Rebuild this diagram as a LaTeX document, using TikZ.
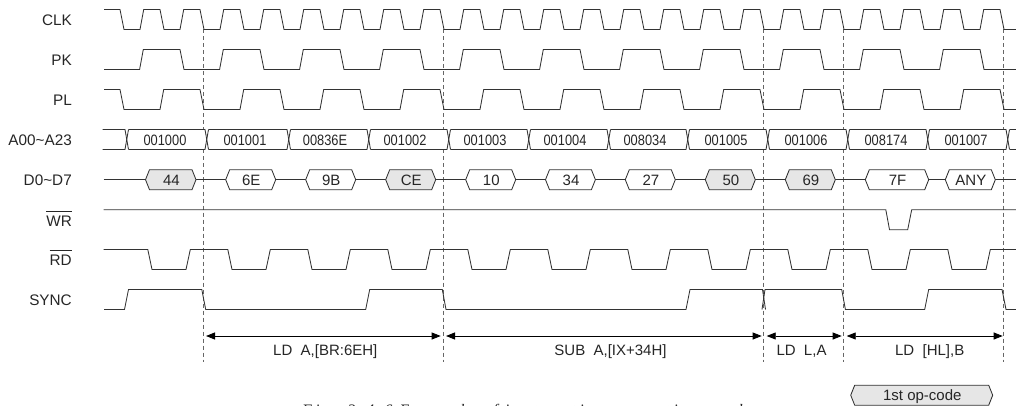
\documentclass[tikz,border=0pt]{standalone}
\usepackage{fontspec}
\setmainfont{Liberation Sans}
\newfontfamily\narrowfont[FakeStretch=0.855]{Liberation Sans}
\newfontfamily\capfont[Ligatures=TeX,LetterSpace=20]{Liberation Serif}
\usetikzlibrary{arrows.meta}
\definecolor{ink}{HTML}{333333}
\definecolor{dashc}{HTML}{666666}
\definecolor{shade}{HTML}{E6E6E6}
\tikzset{
  wave/.style={draw=ink,line width=0.85pt,line join=miter},
  guide/.style={draw=dashc,line width=0.9pt,dash pattern=on 4pt off 3pt},
  sig/.style={anchor=base east,inner sep=0pt,font=\fontsize{15.3}{18}\selectfont,text=black!85},
  addr/.style={anchor=base,inner sep=0pt,font=\narrowfont\fontsize{15}{18}\selectfont,text=black!85},
  dat/.style={anchor=base,inner sep=0pt,font=\fontsize{15}{18}\selectfont,text=black!85},
  span/.style={draw=black,line width=0.85pt,{Triangle[length=9pt,width=7pt]}-{Triangle[length=9pt,width=7pt]}},
}
% name, left tip, right tip, fill, text, centre y
\newcommand\hexa[6]{%
  \filldraw[wave,fill=#4] (#2,#6) -- (#2+4,#6-10) -- (#3-4,#6-10) -- (#3,#6) -- (#3-4,#6+10) -- (#2+4,#6+10) -- cycle;
  \node[dat] (#1) at ({(#2+#3)/2+0.6},#6+5.5) {#5};
}
\newcommand\ovl[1]{\vbox{\hrule height 0.8pt\kern 4pt\hbox{#1}}}
\begin{document}
\begin{tikzpicture}[x=1pt,y=-1pt]
\useasboundingbox (0,0) rectangle (1016,406);
\clip (0,0) rectangle (1016,406);
\fill[white] (0,0) rectangle (1016,406);

% guides
\foreach \x in {203,443,763,843,1003}{
  \draw[guide] (\x,29.5) -- (\x,129.5);
  \draw[guide] (\x,149.5) -- (\x,362);
}

% labels
\node[sig] (lclk) at (72,25.5) {CLK};
\node[sig] (lpk) at (72,66) {PK};
\node[sig] (lpl) at (72,106) {PL};
\node[sig] (la) at (72,146) {A00\textasciitilde A23};
\node[sig] (ld) at (72,185.5) {D0\textasciitilde D7};
\node[sig] (lwr) at (72,226) {\ovl{WR}};
\node[sig] (lrd) at (72,265.5) {\ovl{RD}};
\node[sig] (lsync) at (72,305.5) {SYNC};

% CLK
\draw[wave] (104,9.5) foreach \k in {0,...,21}{
  -- ({120+40*\k},9.5) -- ({124+40*\k},29.5) -- ({140+40*\k},29.5) -- ({143.7+40*\k},9.5)
} -- (1000,9.5) -- (1004,29.5) -- (1016,29.5);

% PK
\draw[wave] (104,69.5) foreach \k in {0,...,10}{
  -- ({139.6+80*\k},69.5) -- ({143.3+80*\k},49.5) -- ({180+80*\k},49.5) -- ({184+80*\k},69.5)
} -- (1016,69.5);

% PL
\draw[wave] (104,89.5) foreach \k in {0,...,10}{
  -- ({120+80*\k},89.5) -- ({124+80*\k},109.5) -- ({160+80*\k},109.5) -- ({163.7+80*\k},89.5)
} -- (1000,89.5) -- (1004,109.5) -- (1016,109.5);

% A00~A23
\draw[wave] (102.5,129.5) -- (125,129.5) -- (128.5,149.5);
\draw[wave] (102.5,149.5) -- (125,149.5) -- (128.5,129.5);
\foreach \c/\n/\m/\t in {125/205/165/001000,205/287/245/001001,287/367/325/00836E,367/447/405/001002,447/527/485/001003,527/607/565/001004,607/686/645/008034,686/766/726/001005,766/846/806/001006,846/926/886/008174,926/1006/966/001007}{
  \draw[wave] (\c+3.5,129.5) -- (\n,129.5) -- (\n+3.5,149.5);
  \draw[wave] (\c+3.5,149.5) -- (\n,149.5) -- (\n+3.5,129.5);
  \node[addr] (a\t) at (\m,146) {\t};
}
\draw[wave] (1009.5,129.5) -- (1016,129.5);
\draw[wave] (1009.5,149.5) -- (1016,149.5);

% D0~D7
\draw[wave] (103.7,179.7) -- (1016,179.7);
\hexa{d1}{145.5}{196}{shade}{44}{179.7}
\hexa{d2}{225.7}{275.7}{white}{6E}{179.7}
\hexa{d3}{305.7}{355.7}{white}{9B}{179.7}
\hexa{d4}{385.7}{435.7}{shade}{CE}{179.7}
\hexa{d5}{465.7}{515.7}{white}{10}{179.7}
\hexa{d6}{545.5}{595.4}{white}{34}{179.7}
\hexa{d7}{625.3}{675.3}{white}{27}{179.7}
\hexa{d8}{705.3}{755.3}{shade}{50}{179.7}
\hexa{d9}{785.3}{835.3}{shade}{69}{179.7}
\hexa{d10}{865.3}{928.7}{white}{7F}{179.7}
\hexa{d11}{945.3}{995.3}{white}{ANY}{179.7}

% WR
\draw[wave] (103.7,209.7) -- (885.8,209.7) -- (889.5,229.7) -- (907.7,229.7) -- (911.7,209.7) -- (1016,209.7);

% RD
\draw[wave] (103.7,249.5) foreach \k in {0,...,9}{
  -- ({147.8+80*\k},249.5) -- ({152+80*\k},269.5) -- ({186+80*\k},269.5) -- ({190.3+80*\k},249.5)
} -- (947.8,249.5) -- (952,269.5) -- (986,269.5) -- (990.3,249.5) -- (1016,249.5);

% SYNC
\draw[wave] (104,309.5) -- (124.5,309.5) -- (128.5,289.5) -- (201.8,289.5) -- (205.7,309.5) -- (365.7,309.5) -- (369.7,289.5) -- (442.3,289.5) -- (446,309.5) -- (686,309.5) -- (690,289.5) -- (762.5,289.5) -- (765.5,309.5);
\draw[wave] (762,309.5) -- (765,289.5) -- (841.7,289.5) -- (845.4,309.5) -- (924.7,309.5) -- (928.7,289.5) -- (1002,289.5) -- (1006,309.5) -- (1016,309.5);

% spans
\coordinate (s1a) at (206,336); \coordinate (s1b) at (440.7,336);
\coordinate (s2a) at (446,336); \coordinate (s2b) at (761.7,336);
\coordinate (s3a) at (766.7,336); \coordinate (s3b) at (841.7,336);
\coordinate (s4a) at (846.7,336); \coordinate (s4b) at (1002.7,336);
\draw[span] (s1a) -- (s1b);
\draw[span] (s2a) -- (s2b);
\draw[span] (s3a) -- (s3b);
\draw[span] (s4a) -- (s4b);
\node[dat] (t1) at (325.3,355.5) {LD\ \ A,[BR:6EH]};
\node[dat] (t2) at (610.5,355.5) {SUB\ \ A,[IX+34H]};
\node[dat] (t3) at (801.5,355.5) {LD\ \ L,A};
\node[dat] (t4) at (929.7,355.5) {LD\ \ [HL],B};

% legend and caption
\hexa{op}{850.7}{992.7}{shade}{1st op-code}{395.2}
\node[anchor=base west,inner sep=0pt,font=\capfont\itshape\fontsize{16}{18}\selectfont,text=black!85] (cap) at (302,415.5) {Fig. 3.4.6 Example of instruction execution cycle};
\end{tikzpicture}
\end{document}
